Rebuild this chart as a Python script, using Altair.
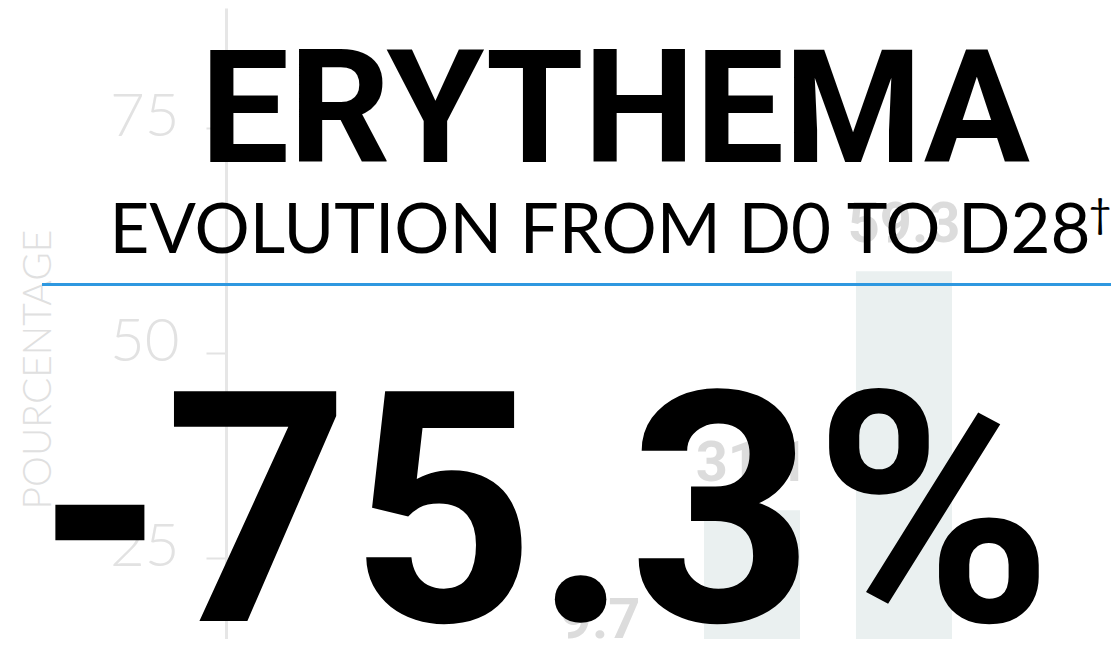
import altair as alt
import pandas as pd

# ---- data ----
days = ["D7", "D14", "D28"]
values = [9.7, 31.1, 59.3]
y_ticks = [25, 50, 75]

headline = ["ERYTHEMA"]
subtitle = ["EVOLUTION FROM D0 TO D28"]
dagger = ["†"]
big_number = ["-75.3%"]
axis_title = "POURCENTAGE"

bars_df = pd.DataFrame({"day": days, "value": values})

W, H = 885, 631

x_enc = alt.X("day:N", sort=days, axis=None,
              scale=alt.Scale(paddingInner=0.368, paddingOuter=0, range=[326, 726]))
y_enc = alt.Y("value:Q",
              scale=alt.Scale(type="pow", exponent=1.18, domain=[13.85, 87.7], zero=False, nice=False),
              axis=alt.Axis(values=y_ticks, grid=False, title=axis_title,
                            domainColor="#e6e6e6", domainWidth=3,
                            tickColor="#e3e3e3", tickWidth=2, tickSize=20,
                            labelFont="Lato", labelFontWeight=300, labelFontSize=60,
                            labelColor="#e2e2e2", labelPadding=27, labelOffset=-10,
                            titleFont="Lato", titleFontWeight=300, titleFontSize=39,
                            titleColor="#e0e0e0", titleX=-188, titleY=361,
                            titleAngle=270, titleAlign="center", titleBaseline="middle"))

bars = alt.Chart(bars_df).mark_bar(color="#eaf0f0", clip=True).encode(x=x_enc, y=y_enc)

labels = alt.Chart(bars_df).mark_text(
    font="Roboto", fontWeight="bold", fontSize=56, color="#dcdcdc",
    baseline="middle", align="center", dy=-46
).encode(x=alt.X("day:N", sort=days), y=alt.Y("value:Q"),
         text=alt.Text("value:Q", format=".1f"))

t1 = alt.Chart(pd.DataFrame({"t": headline})).mark_text(
    font="Roboto", fontWeight="bold", fontSize=158, color="#000000",
    align="center", baseline="alphabetic"
).encode(text="t:N", x=alt.value(389), y=alt.value(154))

t2 = alt.Chart(pd.DataFrame({"t": subtitle})).mark_text(
    font="Lato", fontWeight=400, fontSize=69, color="#000000",
    align="center", baseline="alphabetic"
).encode(text="t:N", x=alt.value(374), y=alt.value(245))

t2b = alt.Chart(pd.DataFrame({"t": dagger})).mark_text(
    font="Lato", fontWeight=400, fontSize=40, color="#000000",
    align="center", baseline="alphabetic"
).encode(text="t:N", x=alt.value(874), y=alt.value(220))

rule = alt.Chart(pd.DataFrame({"r": [0]})).mark_rule(
    color="#2e98e0", strokeWidth=3
).encode(x=alt.value(-184), x2=alt.value(W), y=alt.value(276.5))

t3 = alt.Chart(pd.DataFrame({"t": big_number})).mark_text(
    font="Roboto", fontWeight="bold", fontSize=323, color="#000000",
    align="center", baseline="alphabetic"
).encode(text="t:N", x=alt.value(319), y=alt.value(613))

chart = alt.layer(bars, labels, t1, t2, t2b, rule, t3).properties(
    width=W, height=H,
    background="#ffffff",
    autosize=alt.AutoSizeParams(type="none"),
    padding={"left": 218, "top": 0, "right": 0, "bottom": 0},
).configure_view(stroke=None)

chart.save("out.html", embed_options={"renderer": "svg", "actions": False})
